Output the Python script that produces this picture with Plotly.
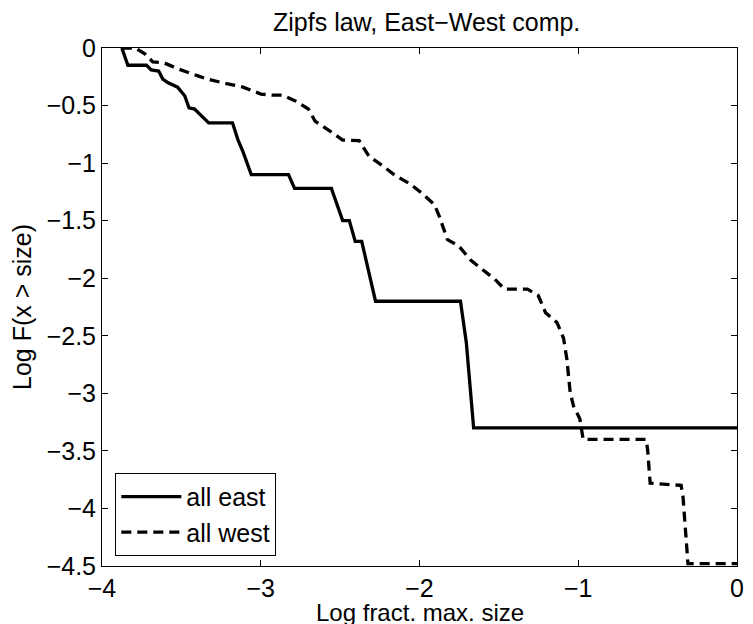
import plotly.graph_objects as go

# ---- data ----
east_x = [-3.875, -3.837, -3.72, -3.69, -3.643, -3.617, -3.586, -3.524, -3.479, -3.452,
          -3.417, -3.328, -3.178, -3.143, -3.112, -3.06, -2.825, -2.787, -2.555, -2.484,
          -2.442, -2.405, -2.364, -2.329, -2.277, -1.742, -1.705, -1.659, 0.0]
east_y = [0.0, -0.15, -0.15, -0.19, -0.20, -0.27, -0.30, -0.34, -0.415, -0.52,
          -0.53, -0.65, -0.65, -0.80, -0.90, -1.10, -1.10, -1.22, -1.22, -1.50,
          -1.50, -1.68, -1.68, -1.89, -2.20, -2.20, -2.56, -3.30, -3.30]

west_x = [-3.875, -3.79, -3.73, -3.68, -3.607, -3.524, -3.40, -3.338, -3.215, -3.112,
          -2.998, -2.926, -2.864, -2.782, -2.70, -2.658, -2.566, -2.484, -2.38, -2.318,
          -2.236, -2.154, -2.06, -1.978, -1.906, -1.876, -1.824, -1.752, -1.68, -1.608,
          -1.525, -1.464, -1.32, -1.252, -1.206, -1.134, -1.093, -1.072, -1.051, -1.03,
          -0.99, -0.969, -0.572, -0.563, -0.547, -0.352, -0.34, -0.309, 0.0]
west_y = [0.0, 0.0, -0.05, -0.12, -0.13, -0.18, -0.24, -0.27, -0.31, -0.34,
          -0.40, -0.41, -0.41, -0.46, -0.53, -0.635, -0.72, -0.80, -0.805, -0.94,
          -1.02, -1.106, -1.18, -1.27, -1.36, -1.46, -1.665, -1.72, -1.84, -1.92,
          -2.01, -2.095, -2.095, -2.15, -2.30, -2.385, -2.52, -2.70, -2.99, -3.11,
          -3.22, -3.40, -3.40, -3.49, -3.78, -3.80, -3.90, -4.48, -4.48]

x_ticks = [-4, -3, -2, -1, 0]
y_ticks = [0, -0.5, -1, -1.5, -2, -2.5, -3, -3.5, -4, -4.5]

FONT = "Liberation Sans, Arial, Helvetica, sans-serif"
FS = 25

fig = go.Figure()
fig.add_trace(go.Scatter(x=east_x, y=east_y, mode="lines", name="all east",
                         line=dict(color="black", width=3.3)))
fig.add_trace(go.Scatter(x=west_x, y=west_y, mode="lines", name="all west",
                         line=dict(color="black", width=3.3, dash="10px,6px")))

axis_common = dict(showline=True, linecolor="black", linewidth=1, mirror="allticks",
                   ticks="inside", ticklen=6, tickcolor="black", showgrid=False,
                   zeroline=False, tickfont=dict(family=FONT, size=FS, color="black"))

# page has an 8px body margin: figure is sized so the plot lands at the reference position
fig.update_layout(
    width=745, height=616,
    margin=dict(l=90, r=9, t=40, b=58),
    paper_bgcolor="white", plot_bgcolor="white",
    font=dict(family=FONT, size=FS, color="black"),
    title=dict(text="Zipfs law, East\u2212West comp.", x=0.562, xanchor="center",
               y=0.977, yanchor="middle", font=dict(family=FONT, size=FS, color="black")),
    xaxis=dict(range=[-4, 0], tickvals=x_ticks, **axis_common),
    yaxis=dict(range=[-4.5, 0], tickvals=y_ticks,
               title=dict(text="Log F(x > size)", standoff=12,
                          font=dict(family=FONT, size=FS)), **axis_common),
    legend=dict(x=0.021, y=0.0196, xanchor="left", yanchor="bottom",
                bgcolor="white", bordercolor="black", borderwidth=1,
                itemwidth=60, tracegroupgap=0,
                font=dict(family=FONT, size=FS, color="black")),
    showlegend=True,
)

fig.add_annotation(text="Log fract. max. size", xref="paper", x=0.5, xanchor="center",
                   yref="paper", y=0, yanchor="middle", yshift=-46, showarrow=False,
                   font=dict(family=FONT, size=24, color="black"))

fig.write_html("out.html")
